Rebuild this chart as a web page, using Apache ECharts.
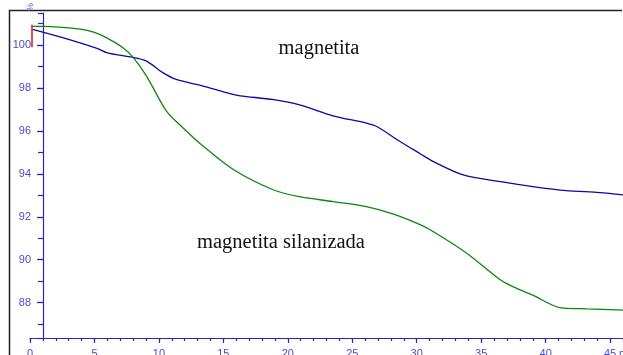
<!DOCTYPE html>
<html>
<head>
<meta charset="utf-8">
<script src="https://cdn.jsdelivr.net/npm/echarts@6/dist/echarts.min.js"></script>
<style>
html,body{margin:0;padding:0;background:#fff;}
#c{width:623px;height:355px;}
</style>
</head>
<body>
<div id="c"></div>
<script>
// time (min)
var magnetitaT = [0.2, 2.6, 5.2, 6.0, 7.8, 9.0, 10.3, 11.4, 13.3, 15.5, 16.3, 18.9, 20.9, 23.5, 26.1, 26.9, 28.7, 30.3, 31.3, 33.6, 36.5, 39.0, 41.6, 44.2, 46.0];
var magnetitaV = [100.74, 100.34, 99.85, 99.64, 99.45, 99.27, 98.72, 98.39, 98.12, 97.74, 97.64, 97.46, 97.22, 96.71, 96.37, 96.21, 95.51, 94.93, 94.57, 93.95, 93.64, 93.41, 93.22, 93.13, 93.02];
var silanT = [0.2, 1.0, 3.9, 5.0, 5.95, 7.24, 8.0, 9.05, 10.6, 11.9, 13.3, 15.8, 18.9, 20.9, 23.5, 26.1, 28.2, 30.3, 31.3, 33.9, 36.5, 37.5, 39.0, 41.1, 43.2, 46.0];
var silanV = [100.88, 100.88, 100.75, 100.6, 100.34, 99.87, 99.43, 98.55, 96.91, 96.13, 95.36, 94.19, 93.25, 92.94, 92.71, 92.47, 92.12, 91.62, 91.3, 90.29, 89.05, 88.73, 88.35, 87.77, 87.71, 87.65];
var markerPts = [[0.13, 99.9], [0.13, 100.95]];
var xTicks = [0, 5, 10, 15, 20, 25, 30, 35, 40, 45];
var yTicks = [88, 90, 92, 94, 96, 98, 100];

function zip(a, b) { return a.map(function (t, i) { return [t, b[i]]; }); }

var axisCol = '#2828b0';
var labCol = '#4a4ac8';
var chart = echarts.init(document.getElementById('c'));
chart.setOption({
  animation: false,
  backgroundColor: '#fff',
  grid: { left: 30, right: 0, top: 13, bottom: 17, containLabel: false, outerBoundsMode: 'none' },
  xAxis: [{
    type: 'value', min: 0, max: 46, interval: 5, position: 'bottom',
    axisLine: { show: true, lineStyle: { color: axisCol, width: 1.2 } },
    axisTick: { show: true, length: 5, lineStyle: { color: axisCol, width: 1.2 } },
    splitLine: { show: false },
    axisLabel: {
      margin: 10, color: labCol, fontSize: 11, fontFamily: 'Liberation Sans, Arial',
      formatter: function (v) { return xTicks.indexOf(v) >= 0 ? String(v) : ''; }
    }
  }, {
    type: 'value', min: 0, max: 46, interval: 1, position: 'bottom',
    axisLine: { show: false },
    axisTick: { show: true, length: 3, lineStyle: { color: axisCol, width: 1.2 } },
    axisLabel: { show: false }, splitLine: { show: false }
  }],
  yAxis: [{
    type: 'value', min: 86.35, max: 101.5, splitNumber: 15, offset: -13, position: 'left',
    axisLine: { show: true, lineStyle: { color: axisCol, width: 1.2 } },
    axisTick: { show: true, length: 5, lineStyle: { color: axisCol, width: 1.2 } },
    axisLabel: { show: false }, splitLine: { show: false }
  }, {
    type: 'value', min: 86.35, max: 101.5, splitNumber: 7, offset: -13, position: 'left',
    axisLine: { show: false },
    axisTick: { show: true, length: 6, lineStyle: { color: axisCol, width: 1.2 } },
    splitLine: { show: false },
    axisLabel: {
      margin: 12, color: labCol, fontSize: 11, fontFamily: 'Liberation Sans, Arial',
      showMinLabel: false, showMaxLabel: false,
      formatter: function (v) {
        var r = Math.round(v);
        return (Math.abs(v - r) < 1e-6 && yTicks.indexOf(r) >= 0) ? String(r) : '';
      }
    }
  }],
  series: [{
    name: 'magnetita', type: 'line', xAxisIndex: 0, yAxisIndex: 0,
    data: zip(magnetitaT, magnetitaV), smooth: 0.3, showSymbol: false,
    lineStyle: { color: '#0a0aa0', width: 1.3 },
    markLine: {
      silent: true, symbol: 'none', label: { show: false },
      lineStyle: { color: '#e01010', width: 1.5, type: 'solid' },
      data: [[{ coord: markerPts[0] }, { coord: markerPts[1] }]]
    }
  }, {
    name: 'magnetita silanizada', type: 'line', xAxisIndex: 0, yAxisIndex: 0,
    data: zip(silanT, silanV), smooth: 0.3, showSymbol: false,
    lineStyle: { color: '#0c870c', width: 1.3 }
  }],
  graphic: [
    { type: 'polyline', shape: { points: [[9.5, 400], [9.5, 10.5], [622, 10.5]] }, style: { fill: 'none', stroke: '#222', lineWidth: 1.5 }, silent: true },
    { type: 'text', x: 319, y: 49, style: { text: 'magnetita', font: '20.5px "Liberation Serif", "Times New Roman", serif', fill: '#111', textAlign: 'center', textVerticalAlign: 'middle' } },
    { type: 'text', x: 281, y: 243, style: { text: 'magnetita silanizada', font: '20.5px "Liberation Serif", "Times New Roman", serif', fill: '#111', textAlign: 'center', textVerticalAlign: 'middle' } },
    { type: 'text', x: 619, y: 348, style: { text: 'min', font: '11px "Liberation Sans", Arial', fill: labCol, textAlign: 'left', textVerticalAlign: 'top' } },
    { type: 'text', x: 31, y: 7, rotation: Math.PI / 2, style: { text: '%', font: '9px "Liberation Sans", Arial', fill: labCol, textAlign: 'center', textVerticalAlign: 'middle' } }
  ]
});
</script>
</body>
</html>
